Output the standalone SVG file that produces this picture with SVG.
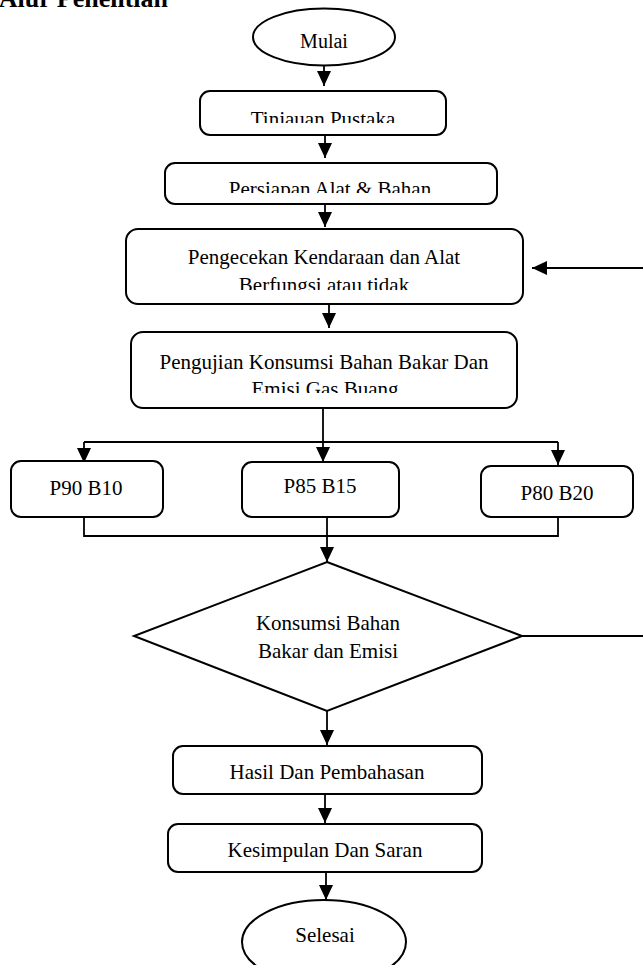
<svg xmlns="http://www.w3.org/2000/svg" width="643" height="965" viewBox="0 0 643 965">
<style>
.box{fill:#fff;stroke:#000;stroke-width:2}
.t{font-family:"Liberation Serif","Times New Roman",serif;font-size:21px;fill:#000;text-anchor:middle}
.h{font-family:"Liberation Serif","Times New Roman",serif;font-size:26px;font-weight:bold;fill:#000}
.c{fill:none;stroke:#000;stroke-width:1.8}
.ca{fill:none;stroke:#000;stroke-width:1.8;marker-end:url(#ah)}
</style>
<defs>
<marker id="ah" viewBox="0 0 15 14" refX="15" refY="7" markerWidth="15" markerHeight="14" markerUnits="userSpaceOnUse" orient="auto">
<path d="M0,0 L15,7 L0,14 z" fill="#000"/>
</marker>
<clipPath id="clT"><rect x="0" y="0" width="643" height="123"/></clipPath>
<clipPath id="clP"><rect x="0" y="0" width="643" height="193"/></clipPath>
<clipPath id="clK"><rect x="0" y="0" width="643" height="290"/></clipPath>
<clipPath id="clU"><rect x="0" y="0" width="643" height="393"/></clipPath>
</defs>
<rect width="643" height="965" fill="#fff"/>
<text class="h" x="168" y="7" text-anchor="end">Diagram Alur Penelitian</text>

<g id="connectors">
<path class="ca" d="M324,65 V86"/>
<path class="ca" d="M325,135 V158"/>
<path class="ca" d="M325,204 V227"/>
<path class="ca" d="M329,304 V328"/>
<path class="c" d="M323,408 V442 M84,442 H558"/>
<path class="ca" d="M84,442 V463"/>
<path class="ca" d="M323,442 V462"/>
<path class="ca" d="M558,442 V465"/>
<path class="c" d="M84,506 V536 H558 V505"/>
<path class="ca" d="M327,505 V562"/>
<path class="ca" d="M522,636 H660 V268 H532"/>
<path class="ca" d="M327,711 V745"/>
<path class="ca" d="M325,794 V823"/>
<path class="ca" d="M326,872 V900"/>
</g>

<g id="mulai">
<ellipse class="box" cx="324" cy="37" rx="71" ry="28.5"/>
<text class="t" x="324" y="48" style="font-size:20px">Mulai</text>
</g>
<g id="tinjauan">
<rect class="box" x="200" y="91" width="246" height="44" rx="10"/>
<text class="t" x="323" y="126" clip-path="url(#clT)">Tinjauan Pustaka</text>
</g>
<g id="persiapan">
<rect class="box" x="165" y="163" width="332" height="41" rx="10"/>
<text class="t" x="330" y="196" clip-path="url(#clP)">Persiapan Alat &amp; Bahan</text>
</g>
<g id="pengecekan">
<rect class="box" x="126" y="229" width="397" height="75" rx="12"/>
<text class="t" x="324" y="264">Pengecekan Kendaraan dan Alat</text>
<text class="t" x="324" y="292" clip-path="url(#clK)">Berfungsi atau tidak</text>
</g>
<g id="pengujian">
<rect class="box" x="131" y="332" width="386" height="76" rx="12"/>
<text class="t" x="324" y="369">Pengujian Konsumsi Bahan Bakar Dan</text>
<text class="t" x="325" y="396" clip-path="url(#clU)">Emisi Gas Buang</text>
</g>
<g id="p90">
<rect class="box" x="11" y="461" width="152" height="56" rx="10"/>
<text class="t" x="86" y="495">P90 B10</text>
</g>
<g id="p85">
<rect class="box" x="242" y="462" width="157" height="55" rx="10"/>
<text class="t" x="320" y="493">P85 B15</text>
</g>
<g id="p80">
<rect class="box" x="481" y="466" width="152" height="51" rx="10"/>
<text class="t" x="557" y="500">P80 B20</text>
</g>
<g id="keputusan">
<polygon class="box" points="327,562 522,636 327,711 134,636"/>
<text class="t" x="328" y="630">Konsumsi Bahan</text>
<text class="t" x="328" y="658">Bakar dan Emisi</text>
</g>
<g id="hasil">
<rect class="box" x="173" y="746" width="309" height="48" rx="10"/>
<text class="t" x="327" y="779">Hasil Dan Pembahasan</text>
</g>
<g id="kesimpulan">
<rect class="box" x="168" y="824" width="314" height="48" rx="10"/>
<text class="t" x="325" y="857">Kesimpulan Dan Saran</text>
</g>
<g id="selesai">
<ellipse class="box" cx="324" cy="942" rx="82" ry="42"/>
<text class="t" x="325" y="942">Selesai</text>
</g>
</svg>
